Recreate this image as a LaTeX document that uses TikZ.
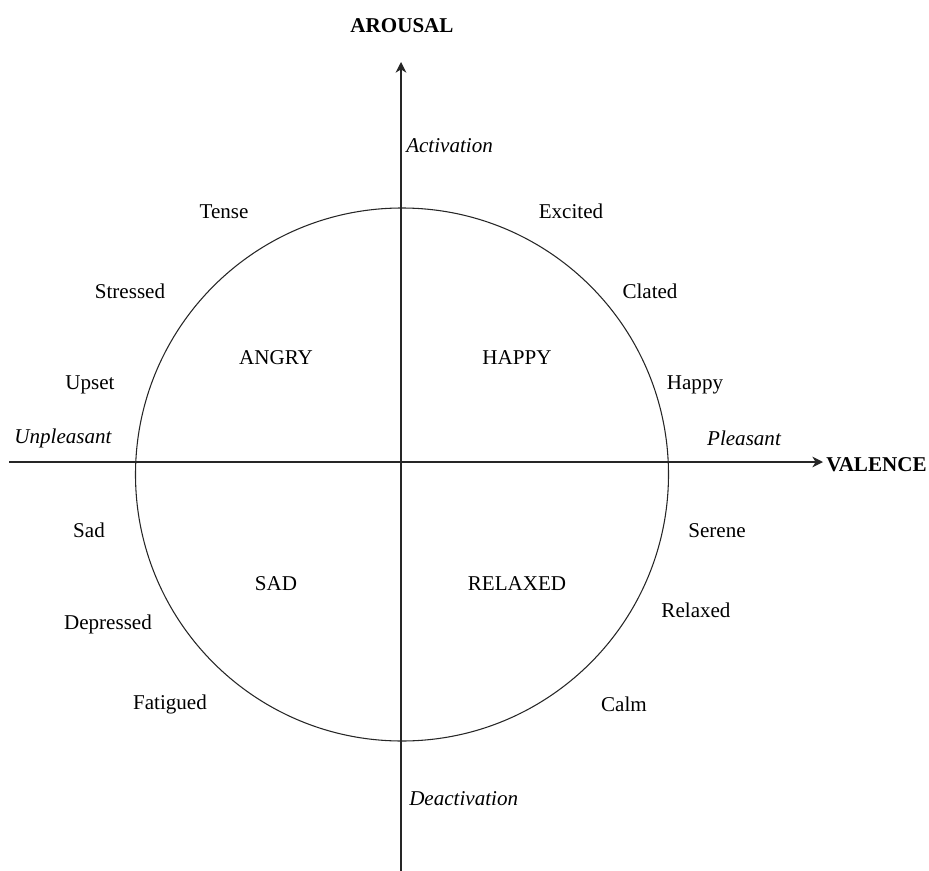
\documentclass[tikz,border=0pt]{standalone}
\usepackage{fontspec}
\setmainfont{Liberation Serif}
\usetikzlibrary{arrows.meta}
\begin{document}
\begin{tikzpicture}[x=0.75pt,y=-0.75pt,
  label text/.style={inner sep=0pt,yshift=-1.2pt,font=\fontsize{15.8}{18}\selectfont},
  axisline/.style={line width=0.9pt,draw=black!85},
  axisarrow/.style={axisline,-{Stealth[length=8pt,width=8pt,inset=2.5pt]}},
  ring/.style={line width=0.8pt,draw=black!85},
  axislabel/.style={label text,font=\fontsize{15.8}{18}\selectfont\bfseries},
  pole/.style={label text,font=\fontsize{15.8}{18}\selectfont\itshape},
  mood/.style={label text},
  quadrant/.style={label text}]
\useasboundingbox (0,0) rectangle (929,871);

% axes
\coordinate (vbot) at (401,871);
\coordinate (vtop) at (401,62);
\coordinate (hleft) at (9,462);
\coordinate (hright) at (823,462);
\draw[axisarrow] (vbot) -- (vtop);
\draw[axisarrow] (hleft) -- (hright);

% the circle sits slightly below the valence axis
\coordinate (centre) at (402,474.5);
\draw[ring] (centre) circle[radius=266.5];

% axis titles
\node[axislabel] (arousal) at (402,24) {AROUSAL};
\node[axislabel,anchor=west] (valence) at (826,463) {VALENCE};

% poles
\node[pole,anchor=west] (activation) at (406,144) {Activation};
\node[pole,anchor=west] (deactivation) at (409,797) {Deactivation};
\node[pole] (unpleasant) at (63,437) {Unpleasant};
\node[pole] (pleasant) at (744,437) {Pleasant};

% quadrant names
\node[quadrant] (angry) at (276,356) {ANGRY};
\node[quadrant] (happyq) at (517,356) {HAPPY};
\node[quadrant] (sadq) at (276,582) {SAD};
\node[quadrant] (relaxedq) at (517,582) {RELAXED};

% affect words around the circle
\node[mood] (tense) at (224,210) {Tense};
\node[mood] (excited) at (571,210) {Excited};
\node[mood] (stressed) at (130,290) {Stressed};
\node[mood] (clated) at (650,290) {Clated};
\node[mood] (upset) at (90,383) {Upset};
\node[mood] (happy) at (695,383) {Happy};
\node[mood] (sad) at (89,529) {Sad};
\node[mood] (serene) at (717,529) {Serene};
\node[mood] (depressed) at (108,623) {Depressed};
\node[mood] (relaxed) at (696,609) {Relaxed};
\node[mood] (fatigued) at (170,703) {Fatigued};
\node[mood] (calm) at (624,703) {Calm};
\end{tikzpicture}
\end{document}
